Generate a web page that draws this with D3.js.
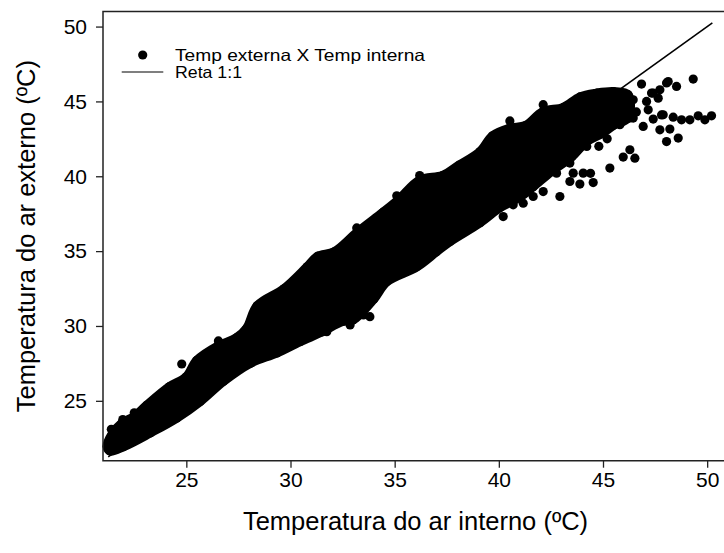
<!DOCTYPE html>
<html><head><meta charset="utf-8">
<script src="https://cdn.jsdelivr.net/npm/d3@7"></script>
<style>
body{margin:0;background:#fff}
svg{display:block}
text{font-family:"Liberation Sans",Arial,Helvetica,sans-serif;fill:#000}
</style>
</head><body>
<svg id="chart" width="724" height="553"></svg>
<script>
// ---- data ----
const xTicks = [25, 30, 35, 40, 45, 50];
const yTicks = [25, 30, 35, 40, 45, 50];
const legendLabels = ["Temp externa X Temp interna", "Reta 1:1"];
const xTitle = "Temperatura do ar interno (ºC)";
const yTitle = "Temperatura do ar externo (ºC)";

// dense cloud of points: upper edge (interno, externo) of the solid core
const coreUpper = [[21.2,21.95],[21.45,22.8],[21.9,23.5],[22.5,23.95],[23.1,24.7],[24.2,25.95],[25.0,26.6],[25.5,27.7],[26.5,28.65],[27.4,29.2],[27.9,29.85],[28.4,31.35],[29.7,32.5],[30.8,33.95],[31.3,34.65],[32.1,34.95],[33.2,36.25],[34.45,37.6],[35.2,38.45],[36.2,39.75],[37.3,40.05],[38.1,40.75],[39.1,41.65],[39.7,42.7],[40.5,43.2],[41.3,43.4],[42.1,44.3],[43.1,44.6],[43.9,45.3],[44.7,45.55],[45.5,45.65],[46.2,45.45]];
// lower edge of the solid core
const coreLower = [[21.35,21.65],[22.0,21.95],[23.26,22.85],[24.54,23.85],[25.66,24.95],[26.78,26.3],[28.06,27.5],[29.34,28.2],[30.46,28.95],[31.5,29.6],[32.5,30.3],[33.0,30.4],[34.0,31.8],[34.62,32.95],[36.06,33.95],[37.0,34.95],[37.66,35.65],[39.1,36.9],[40.05,37.9],[41.0,38.6],[41.65,39.3],[42.5,40.3],[43.5,41.3],[44.2,42.3],[45.0,42.9],[45.5,43.4],[46.2,43.9]];
// individual (edge and outlying) points
const pointsX = [24.78,26.54,21.4,21.95,22.5,31.74,32.06,32.86,33.5,33.81,33.3,33.18,35.1,36.2,
  40.53,42.13,46.85,48.05,48.53,49.33,47.41,47.65,47.09,46.45,47.17,46.45,46.93,47.41,47.89,48.37,48.77,49.17,49.57,49.89,50.21,47.73,48.21,48.05,48.61,46.29,45.97,46.53,45.33,44.53,43.89,43.41,42.93,43.57,44.05,43.41,42.77,45.81,40.21,40.69,41.17,41.65,42.13,44.22,46.1,46.6,45.2,44.8,48.13,47.73,47.33,47.81,45.9,46.3,44.4];
const pointsY = [27.46,29.0,23.1,23.75,24.2,29.62,30.18,30.07,30.74,30.62,31.0,36.55,38.7,40.05,
  43.7,44.78,46.16,46.23,46.0,46.49,45.56,45.22,45.0,45.11,44.44,43.89,43.33,43.82,44.11,43.95,43.77,43.77,44.04,43.77,44.04,43.1,43.15,42.32,42.55,41.77,41.28,41.21,40.55,39.58,39.48,39.65,38.65,40.21,40.21,40.88,40.21,43.44,37.31,38.09,38.2,38.65,38.98,41.99,44.6,44.3,42.5,42.0,46.33,45.78,45.56,44.1,44.2,43.9,40.2];
// 1:1 reference line
const lineX = [21.25, 50.25];
const lineY = [21.25, 50.25];

// ---- drawing ----
(function () {
const svg = d3.select("#chart");
const pL = 103, pT = 11.6, pB = 460.7, pR = 728;
const x = d3.scaleLinear().domain([21, 51]).range([pL, pR]);
const y = d3.scaleLinear().domain([21, 51]).range([pB, pT]);
const R = 4.6;

// 1:1 line (under the cloud)
svg.append("path")
  .attr("d", d3.line().x(d => x(d[0])).y(d => y(d[1]))(lineX.map((v, i) => [v, lineY[i]])))
  .attr("stroke", "#000").attr("stroke-width", 1.6).attr("fill", "none");

// dense core: outline through the edge point centres, stroked with the marker diameter
const poly = coreUpper.concat(coreLower.slice().reverse());
svg.append("path")
  .attr("d", d3.line().curve(d3.curveCatmullRomClosed.alpha(0.5)).x(d => x(d[0])).y(d => y(d[1]))(poly))
  .attr("fill", "#000").attr("stroke", "#000")
  .attr("stroke-width", 2 * R).attr("stroke-linejoin", "round");

svg.append("g").selectAll("circle").data(poly).join("circle")
  .attr("cx", d => x(d[0])).attr("cy", d => y(d[1])).attr("r", R).attr("fill", "#000");

svg.append("g").selectAll("circle").data(pointsX.map((v, i) => [v, pointsY[i]])).join("circle")
  .attr("cx", d => x(d[0])).attr("cy", d => y(d[1])).attr("r", R).attr("fill", "#000");

// frame
svg.append("path").attr("d", `M${pL},${pT}H${pR}V${pB}H${pL}Z`)
  .attr("stroke", "#222").attr("stroke-width", 1.5).attr("fill", "none");

// axes
const xAxis = d3.axisBottom(x).tickValues(xTicks).tickSize(7).tickSizeOuter(0).tickPadding(4);
const gx = svg.append("g").attr("transform", `translate(0,${pB})`).call(xAxis);
gx.select(".domain").remove();
gx.selectAll("line").attr("stroke", "#222").attr("stroke-width", 1.3);
gx.selectAll("text").attr("font-size", 21).attr("font-family", "Liberation Sans, Arial, sans-serif").attr("fill", "#000");

const yAxis = d3.axisLeft(y).tickValues(yTicks).tickSize(7).tickSizeOuter(0).tickPadding(9);
const gy = svg.append("g").attr("transform", `translate(${pL},0)`).call(yAxis);
gy.select(".domain").remove();
gy.selectAll("line").attr("stroke", "#222").attr("stroke-width", 1.3);
gy.selectAll("text").attr("font-size", 21).attr("font-family", "Liberation Sans, Arial, sans-serif").attr("fill", "#000");

// axis titles
svg.append("text").attr("x", (pL + pR) / 2).attr("y", 530)
  .attr("text-anchor", "middle").attr("font-size", 25.5).text(xTitle);
svg.append("text").attr("transform", `translate(35,${(pT + pB) / 2}) rotate(-90)`)
  .attr("text-anchor", "middle").attr("font-size", 25.5).text(yTitle);

// legend
const lg = svg.append("g");
lg.append("circle").attr("cx", 142.7).attr("cy", 55).attr("r", R).attr("fill", "#000");
lg.append("text").attr("x", 175).attr("y", 60.7).attr("font-size", 16.5)
  .attr("textLength", 250).attr("lengthAdjust", "spacingAndGlyphs").text(legendLabels[0]);
lg.append("line").attr("x1", 121.7).attr("x2", 163.3).attr("y1", 72).attr("y2", 72)
  .attr("stroke", "#000").attr("stroke-width", 1.2);
lg.append("text").attr("x", 175).attr("y", 78).attr("font-size", 16.5)
  .attr("textLength", 67).attr("lengthAdjust", "spacingAndGlyphs").text(legendLabels[1]);
})();
</script>
</body></html>
